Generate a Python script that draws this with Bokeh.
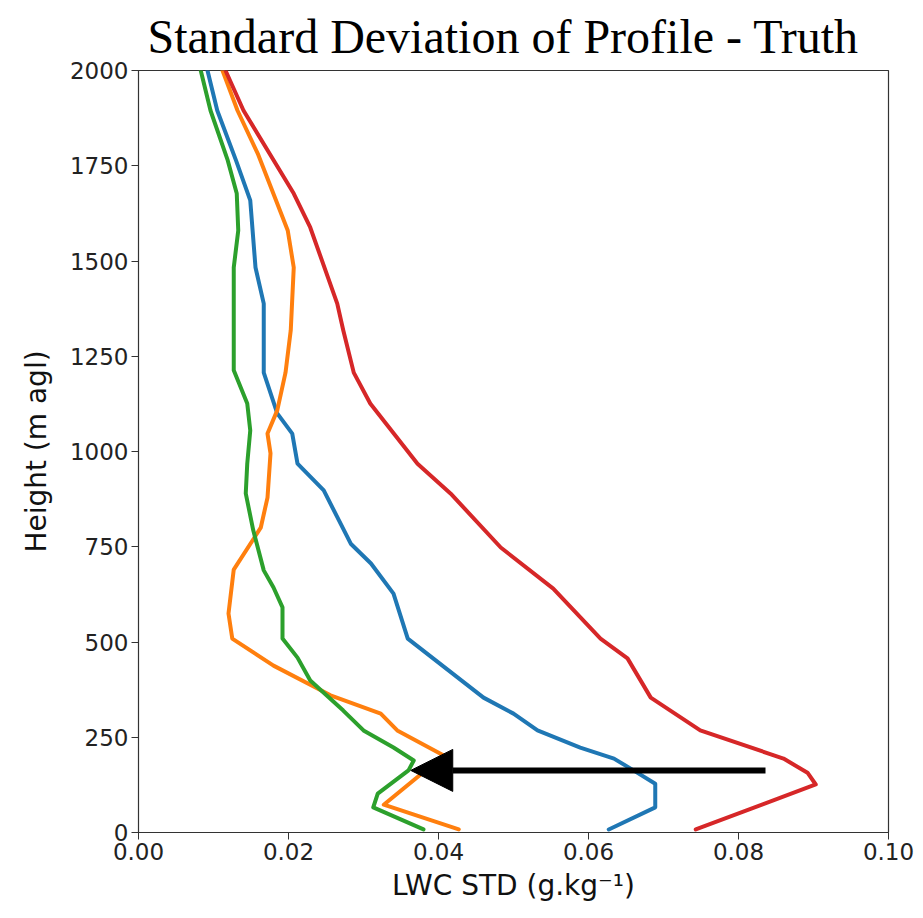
from bokeh.plotting import figure
from bokeh.models import FixedTicker, PrintfTickFormatter, Arrow, NormalHead, Range1d
from bokeh.embed import file_html
from bokeh.resources import INLINE

# ---- data ----
blue_h = [8, 66, 128, 163, 194, 223, 268, 312, 354, 509, 627, 706, 758, 898, 968,
          1047, 1100, 1207, 1388, 1483, 1659, 1764, 1895, 2000]
blue_x = [0.0627, 0.0689, 0.0689, 0.0660, 0.0634, 0.0589, 0.0532, 0.0500, 0.0460, 0.0359,
          0.0340, 0.0310, 0.0283, 0.0247, 0.0212, 0.0205, 0.0185, 0.0167, 0.0167, 0.0156,
          0.0149, 0.0130, 0.0105, 0.0092]

orange_h = [8, 73, 202, 268, 312, 360, 438, 509, 575, 690, 800, 879, 995, 1047, 1108,
            1207, 1318, 1483, 1580, 1782, 1895, 2000]
orange_x = [0.0427, 0.0327, 0.0407, 0.0345, 0.0323, 0.0256, 0.0180, 0.0125, 0.0120, 0.0127,
            0.0163, 0.0172, 0.0176, 0.0172, 0.0185, 0.0196, 0.0203, 0.0207, 0.0199, 0.0159,
            0.0132, 0.0112]

green_h = [8, 66, 102, 163, 189, 223, 268, 320, 399, 459, 509, 591, 643, 688, 793, 890,
           968, 1055, 1126, 1213, 1318, 1483, 1580, 1677, 1764, 1895, 2000]
green_x = [0.0380, 0.0313, 0.0319, 0.0360, 0.0367, 0.0340, 0.0300, 0.0273, 0.0229, 0.0212,
           0.0192, 0.0192, 0.0180, 0.0167, 0.0153, 0.0143, 0.0145, 0.0149, 0.0145, 0.0127,
           0.0127, 0.0127, 0.0133, 0.0131, 0.0119, 0.0096, 0.0083]

red_h = [8, 126, 157, 194, 268, 354, 457, 509, 640, 748, 890, 968, 1126, 1207, 1318,
         1388, 1588, 1677, 1895, 2000]
red_x = [0.0743, 0.0903, 0.0892, 0.0860, 0.0749, 0.0683, 0.0652, 0.0616, 0.0553, 0.0483,
         0.0416, 0.0372, 0.0309, 0.0287, 0.0273, 0.0265, 0.0229, 0.0207, 0.0140, 0.0116]

x_ticks = [0.0, 0.02, 0.04, 0.06, 0.08, 0.10]
y_ticks = [0, 250, 500, 750, 1000, 1250, 1500, 1750, 2000]

arrow_x_start, arrow_x_end, arrow_y = 0.0836, 0.0363, 163

title_text = "Standard Deviation of Profile - Truth"
x_label = "LWC STD (g.kg\u207b\u00b9)"
y_label = "Height (m agl)"

# ---- figure ----
p = figure(frame_width=750, frame_height=762,
           min_border_left=138, min_border_right=35,
           min_border_top=70, min_border_bottom=86,
           x_range=Range1d(0, 0.10), y_range=Range1d(0, 2000),
           output_backend="svg", toolbar_location=None,
           title=title_text)

p.title.text_font = "Liberation Serif"
p.title.text_font_size = "48px"
p.title.text_font_style = "normal"
p.title.align = "left"
p.title.offset = 9
p.title.standoff = 15
p.title.text_color = "black"

series = [(blue_x, blue_h, "#1f77b4"), (orange_x, orange_h, "#ff7f0e"),
          (green_x, green_h, "#2ca02c"), (red_x, red_h, "#d62728")]
for xs, hs, c in series:
    p.line(xs, hs, line_color=c, line_width=4, line_join="round", line_cap="round")

p.add_layout(Arrow(end=NormalHead(size=42, fill_color="black", line_color="black", line_width=1),
                   x_start=arrow_x_start, y_start=arrow_y,
                   x_end=arrow_x_end, y_end=arrow_y,
                   line_width=6, line_color="black"))

p.xgrid.visible = False
p.ygrid.visible = False
p.outline_line_color = "#333333"
p.outline_line_width = 1.2
p.background_fill_color = "white"
p.border_fill_color = "white"

p.xaxis.ticker = FixedTicker(ticks=x_ticks)
p.xaxis.formatter = PrintfTickFormatter(format="%.2f")
p.yaxis.ticker = FixedTicker(ticks=y_ticks)

for ax in (p.xaxis, p.yaxis):
    ax.major_label_text_font = "DejaVu Sans"
    ax.major_label_text_font_size = "23px"
    ax.major_label_text_color = "#222222"
    ax.axis_label_text_font = "DejaVu Sans"
    ax.axis_label_text_font_size = "28px"
    ax.axis_label_text_font_style = "normal"
    ax.axis_label_text_color = "#111111"
    ax.minor_tick_line_color = None
    ax.major_tick_out = 7
    ax.major_tick_in = 0
    ax.major_tick_line_color = "#333333"
    ax.axis_line_color = "#333333"
    ax.major_label_standoff = 3

p.xaxis.axis_label = x_label
p.yaxis.axis_label = y_label
p.xaxis.axis_label_standoff = 6
p.yaxis.axis_label_standoff = 14

open("out.html", "w").write(file_html(p, INLINE))
